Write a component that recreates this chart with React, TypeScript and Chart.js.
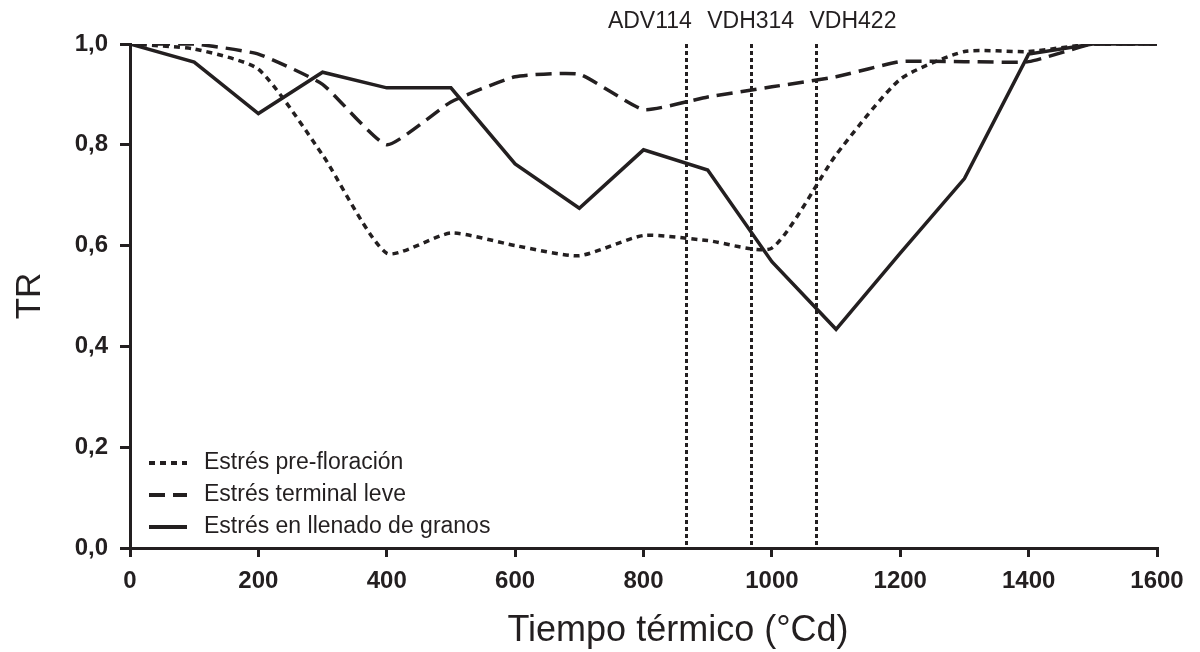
import React, { useEffect, useRef } from "react";
import { Chart, registerables } from "chart.js";

Chart.register(...registerables);

// Thermal time (°Cd) sampling points
const tiempo = [0, 100, 200, 300, 400, 500, 600, 700, 800, 900, 1000, 1100, 1200, 1300, 1400, 1500, 1600];

// Transpiration ratio (TR) for each stress scenario
const preFloracion = [1.0, 0.99, 0.95, 0.78, 0.585, 0.625, 0.6, 0.58, 0.62, 0.61, 0.595, 0.78, 0.93, 0.985, 0.985, 1.0, 1.0];
const terminalLeve = [1.0, 1.0, 0.98, 0.92, 0.8, 0.885, 0.935, 0.94, 0.87, 0.895, 0.915, 0.935, 0.965, 0.965, 0.965, 1.0, 1.0];
const llenadoGranos = [1.0, 0.964, 0.862, 0.944, 0.913, 0.913, 0.762, 0.674, 0.79, 0.75, 0.568, 0.434, 0.585, 0.733, 0.98, 1.0, 1.0];

const seriesLabels = ["Estrés pre-floración", "Estrés terminal leve", "Estrés en llenado de granos"];

// Flowering dates of each hybrid
const hibridos = ["ADV114", "VDH314", "VDH422"];
const floracion = [866, 967, 1068];
const hibridoAlign: CanvasTextAlign[] = ["right", "center", "left"];

const xTicks = [0, 200, 400, 600, 800, 1000, 1200, 1400, 1600];
const yTicks = [0, 0.2, 0.4, 0.6, 0.8, 1.0];

const INK = "#231f20";
const FONT = "'Liberation Sans', Arial, Helvetica, sans-serif";

const toPoints = (ys: number[]) => tiempo.map((x, i) => ({ x, y: ys[i] }));

const floweringPlugin = {
  id: "floweringLines",
  afterDatasetsDraw(chart: any) {
    const { ctx, scales, chartArea } = chart;
    const yTop = scales.y.getPixelForValue(1.0);
    ctx.save();
    ctx.strokeStyle = INK;
    ctx.lineWidth = 3;
    ctx.setLineDash([4, 3]);
    floracion.forEach((v) => {
      const px = Math.round(scales.x.getPixelForValue(v)) + 0.5;
      ctx.beginPath();
      ctx.moveTo(px, yTop);
      ctx.lineTo(px, chartArea.bottom);
      ctx.stroke();
    });
    ctx.setLineDash([]);
    ctx.fillStyle = INK;
    ctx.font = `23px ${FONT}`;
    ctx.textBaseline = "middle";
    floracion.forEach((v, i) => {
      const px = scales.x.getPixelForValue(v);
      const align = hibridoAlign[i];
      ctx.textAlign = align;
      const dx = align === "right" ? 6 : align === "left" ? -6 : 0;
      ctx.fillText(hibridos[i], px + dx, 22);
    });
    ctx.restore();
  },
};

const legendPlugin = {
  id: "insetLegend",
  afterDatasetsDraw(chart: any) {
    const { ctx, chartArea } = chart;
    ctx.save();
    ctx.font = `23px ${FONT}`;
    ctx.fillStyle = INK;
    ctx.textAlign = "left";
    ctx.textBaseline = "middle";
    chart.data.datasets.forEach((ds: any, i: number) => {
      const y = chartArea.bottom - 85 + i * 32;
      const x0 = chartArea.left + 19;
      ctx.strokeStyle = INK;
      ctx.lineWidth = 4;
      ctx.setLineDash(ds.borderDash || []);
      ctx.beginPath();
      ctx.moveTo(x0, y);
      ctx.lineTo(x0 + 38, y);
      ctx.stroke();
      ctx.setLineDash([]);
      ctx.fillText(ds.label, x0 + 55, y);
    });
    ctx.restore();
  },
};

const titlesPlugin = {
  id: "axisTitles",
  afterDraw(chart: any) {
    const { ctx, chartArea } = chart;
    ctx.save();
    ctx.fillStyle = INK;
    ctx.font = `36px ${FONT}`;
    ctx.textAlign = "center";
    ctx.textBaseline = "middle";
    ctx.fillText("Tiempo térmico (°Cd)", chartArea.left + 548, 631);
    ctx.font = `35px ${FONT}`;
    ctx.translate(30, (chartArea.top + chartArea.bottom) / 2);
    ctx.rotate(-Math.PI / 2);
    ctx.fillText("TR", 0, 0);
    ctx.restore();
  },
};

export default function App() {
  const ref = useRef<HTMLCanvasElement | null>(null);

  useEffect(() => {
    document.body.style.margin = "0";
    const canvas = ref.current;
    if (!canvas) return;
    const chart = new Chart(canvas, {
      type: "line",
      data: {
        datasets: [
          {
            label: seriesLabels[0],
            data: toPoints(preFloracion),
            borderColor: INK,
            borderWidth: 3.5,
            borderDash: [6, 5],
            pointRadius: 0,
            tension: 0.2,
            fill: false,
          },
          {
            label: seriesLabels[1],
            data: toPoints(terminalLeve),
            borderColor: INK,
            borderWidth: 3.5,
            borderDash: [16, 8],
            pointRadius: 0,
            tension: 0.15,
            fill: false,
          },
          {
            label: seriesLabels[2],
            data: toPoints(llenadoGranos),
            borderColor: INK,
            borderWidth: 3.5,
            pointRadius: 0,
            tension: 0,
            fill: false,
          },
        ],
      },
      options: {
        animation: false,
        responsive: false,
        maintainAspectRatio: false,
        layout: { padding: { left: 0, top: 44, right: 43, bottom: 0 } },
        plugins: {
          legend: { display: false },
          tooltip: { enabled: false },
          title: { display: false },
        },
        scales: {
          x: {
            type: "linear",
            min: 0,
            max: 1600,
            afterBuildTicks: (scale: any) => {
              scale.ticks = xTicks.map((v) => ({ value: v }));
            },
            afterFit: (scale: any) => {
              scale.height = 104;
            },
            grid: {
              display: true,
              drawOnChartArea: false,
              drawTicks: true,
              tickLength: 9,
              color: INK,
              lineWidth: 3,
            },
            border: { display: true, color: INK, width: 3 },
            ticks: {
              color: INK,
              padding: 10,
              maxRotation: 0,
              font: { family: FONT, size: 24, weight: "bold" },
              callback: (v: any) => String(v),
            },
          },
          y: {
            type: "linear",
            min: 0,
            max: 1,
            afterBuildTicks: (scale: any) => {
              scale.ticks = yTicks.map((v) => ({ value: v }));
            },
            afterFit: (scale: any) => {
              scale.width = 130;
            },
            grid: {
              display: true,
              drawOnChartArea: false,
              drawTicks: true,
              tickLength: 10,
              color: INK,
              lineWidth: 3,
            },
            border: { display: true, color: INK, width: 3 },
            ticks: {
              color: INK,
              padding: 12,
              font: { family: FONT, size: 24, weight: "bold" },
              callback: (v: any) => Number(v).toFixed(1).replace(".", ","),
            },
          },
        },
      },
      plugins: [floweringPlugin, legendPlugin, titlesPlugin],
    });
    return () => chart.destroy();
  }, []);

  return (
    <div style={{ width: 1200, height: 652, background: "#ffffff" }}>
      <canvas ref={ref} width={1200} height={652} style={{ display: "block" }} />
    </div>
  );
}
